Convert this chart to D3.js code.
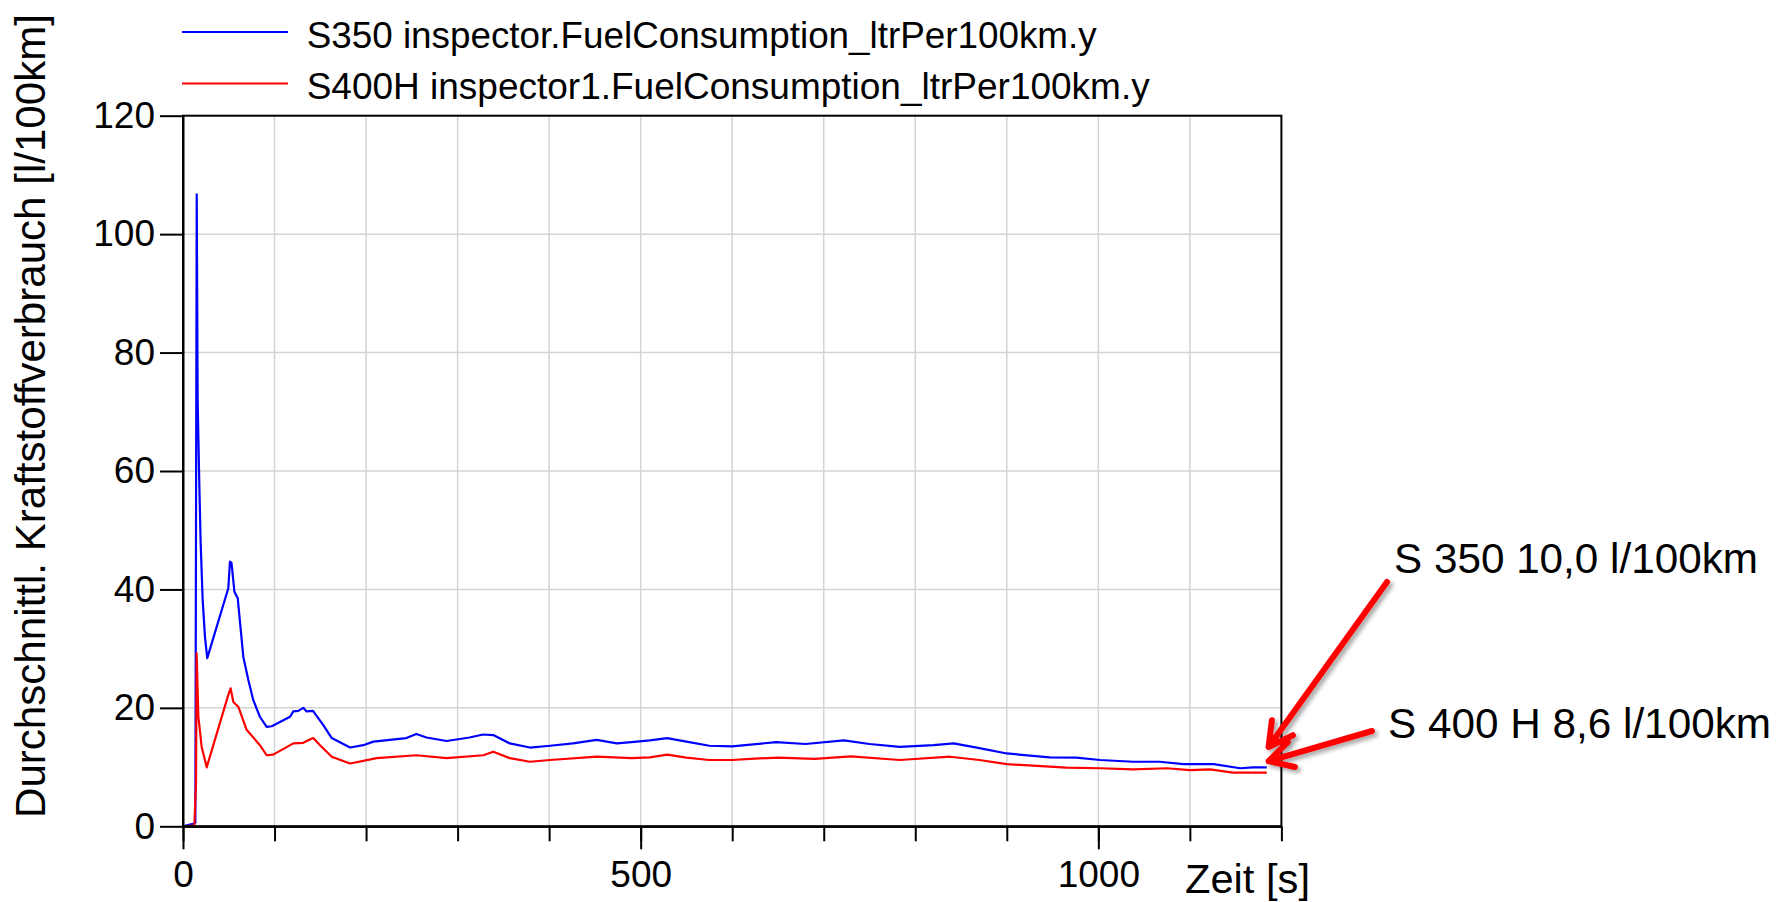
<!DOCTYPE html>
<html>
<head>
<meta charset="utf-8">
<script src="https://cdn.jsdelivr.net/npm/d3@7"></script>
<style>
  html, body { margin: 0; padding: 0; background: #fff; }
  svg { display: block; font-family: "Liberation Sans", Arial, sans-serif; }
</style>
</head>
<body>
<div id="chart"></div>
<script>
// time [s] and average consumption [l/100km]
const tS350 = [0, 11, 13.5, 15, 16, 17.8, 19.3, 21.5, 24, 26.5, 49.5, 51.3, 53, 56.2, 59.8, 65.9, 71.4, 76.8, 84, 91.4, 97,
  117, 120.5, 126, 131.4, 135, 142, 153.3, 162.5, 182.5, 197, 208, 244, 255, 266, 288, 313, 328, 339, 357, 379, 401, 426,
  452, 474, 490, 510, 529, 550, 575, 600, 620, 648, 680, 722, 750, 783, 820, 842, 870, 900, 947, 976, 1002, 1038, 1067,
  1093, 1126, 1155, 1169, 1184];
const vS350 = [0, 0.4, 0.6, 106.7, 72, 57.9, 47.8, 38.2, 32, 28.4, 40.2, 44.7, 44.5, 39.6, 38.5, 28.6, 24.7, 21.3, 18.5, 16.8, 16.9,
  18.5, 19.4, 19.5, 20.0, 19.4, 19.5, 17.1, 14.9, 13.3, 13.7, 14.3, 14.9, 15.6, 15.0, 14.4, 15.0, 15.5, 15.4, 14.0, 13.3, 13.6, 14.0,
  14.6, 14.0, 14.2, 14.5, 14.9, 14.3, 13.6, 13.5, 13.8, 14.2, 13.9, 14.5, 13.9, 13.4, 13.7, 14.0, 13.2, 12.3, 11.65, 11.6, 11.2, 10.9, 10.9,
  10.5, 10.5, 9.8, 9.96, 9.96];

const tS400H = [0, 12.4, 14.2, 14.9, 16.8, 20.4, 25.9, 49.5, 52, 55, 60.4, 69.5, 84, 91.4, 98.6, 120.5, 131.4, 135, 142.4, 149.7,
  162.5, 182.5, 211.6, 255, 288, 328, 339, 357, 379, 401, 452, 490, 510, 529, 550, 575, 600, 620, 650, 690, 730, 783, 838, 870,
  900, 965, 1002, 1038, 1075, 1100, 1122, 1147, 1184];
const vS400H = [0, 0.1, 7.3, 29.2, 18.5, 13.4, 9.96, 22.2, 23.3, 21.0, 20.2, 16.3, 13.7, 12.0, 12.1, 14.0, 14.1, 14.4, 14.9, 13.7,
  11.75, 10.6, 11.5, 12.0, 11.5, 12.0, 12.6, 11.5, 10.9, 11.2, 11.75, 11.5, 11.65, 12.1, 11.6, 11.2, 11.2, 11.4, 11.6, 11.4, 11.8,
  11.2, 11.75, 11.2, 10.5, 9.9, 9.8, 9.6, 9.8, 9.5, 9.6, 9.05, 9.05];

const seriesNames = ["S350 inspector.FuelConsumption_ltrPer100km.y", "S400H inspector1.FuelConsumption_ltrPer100km.y"];
const seriesColors = ["#0000ff", "#ff0000"];
const yTicks = [0, 20, 40, 60, 80, 100, 120];
const xMajor = [0, 500, 1000];
const xMinor = d3.range(0, 1201, 100);

// final values, pointed at by the arrows
const notes = [
  { text: "S 350 10,0 l/100km", t: 1186, v: 13.4, tx: 1394, ty: 573, len: 364, sx: 1387, sy: 582 },
  { text: "S 400 H 8,6 l/100km", t: 1186, v: 11.0, tx: 1388, ty: 738, len: 383, sx: 1372, sy: 731 }
];

const width = 1789, height = 902;
const svg = d3.select("#chart").append("svg")
  .attr("width", width)
  .attr("height", height);

const x = d3.scaleLinear().domain([0, 1200]).range([183, 1281.4]);
const y = d3.scaleLinear().domain([0, 120]).range([826.3, 115.7]);

// grid
svg.append("g").selectAll("line")
  .data(xMinor.filter(d => d > 0 && d < 1200))
  .join("line")
  .attr("x1", d => x(d)).attr("x2", d => x(d))
  .attr("y1", y(0)).attr("y2", y(120))
  .attr("stroke", "#d4d4d4").attr("stroke-width", 1.5);

svg.append("g").selectAll("line")
  .data(yTicks.filter(d => d > 0 && d < 120))
  .join("line")
  .attr("x1", x(0)).attr("x2", x(1200))
  .attr("y1", d => y(d)).attr("y2", d => y(d))
  .attr("stroke", "#d4d4d4").attr("stroke-width", 1.5);

// curves
const line = d3.line().x(d => x(d[0])).y(d => y(d[1]));
const series = [d3.zip(tS350, vS350), d3.zip(tS400H, vS400H)];

svg.append("g").selectAll("path")
  .data(series)
  .join("path")
  .attr("d", line)
  .attr("fill", "none")
  .attr("stroke", (d, i) => seriesColors[i])
  .attr("stroke-width", 2.2)
  .attr("stroke-linejoin", "round");

// frame
svg.append("rect")
  .attr("x", x(0)).attr("y", y(120))
  .attr("width", x(1200) - x(0)).attr("height", y(0) - y(120))
  .attr("fill", "none").attr("stroke", "#000").attr("stroke-width", 2);

// axes
const yAxis = svg.append("g")
  .attr("transform", `translate(${x(0)},0)`)
  .call(d3.axisLeft(y).tickValues(yTicks).tickSize(23).tickSizeOuter(0).tickPadding(5));

const xMinorAxis = svg.append("g")
  .attr("transform", `translate(0,${y(0)})`)
  .call(d3.axisBottom(x).tickValues(xMinor).tickSize(15).tickSizeOuter(0).tickFormat(""));

const xAxis = svg.append("g")
  .attr("transform", `translate(0,${y(0)})`)
  .call(d3.axisBottom(x).tickValues(xMajor).tickSize(23).tickSizeOuter(0).tickFormat(d3.format("d")));

xAxis.selectAll("text").attr("y", 60.7).attr("dy", 0);

[yAxis, xMinorAxis, xAxis].forEach(g => {
  g.select(".domain").attr("stroke-width", 2);
  g.selectAll(".tick line").attr("stroke-width", 2);
  g.selectAll("text")
    .attr("font-size", 37)
    .attr("font-family", "'Liberation Sans', Arial, sans-serif")
    .attr("fill", "#000");
});

// axis titles
svg.append("text")
  .attr("transform", "translate(45,818) rotate(-90)")
  .attr("font-size", 43)
  .attr("textLength", 804)
  .attr("lengthAdjust", "spacingAndGlyphs")
  .text("Durchschnittl. Kraftstoffverbrauch [l/100km]");

svg.append("text")
  .attr("x", 1185).attr("y", 893)
  .attr("font-size", 40)
  .attr("textLength", 125)
  .attr("lengthAdjust", "spacingAndGlyphs")
  .text("Zeit [s]");

// legend
const legend = svg.append("g").selectAll("g")
  .data(seriesNames)
  .join("g")
  .attr("transform", (d, i) => `translate(0,${i * 51.5})`);

legend.append("line")
  .attr("x1", 182).attr("x2", 288)
  .attr("y1", 32).attr("y2", 32)
  .attr("stroke", (d, i) => seriesColors[i])
  .attr("stroke-width", 2);

legend.append("text")
  .attr("x", 306.7).attr("y", 47.5)
  .attr("font-size", 37)
  .attr("textLength", (d, i) => i === 0 ? 790 : 843)
  .attr("lengthAdjust", "spacingAndGlyphs")
  .text(d => d);

// annotations with arrows
const defs = svg.append("defs");
defs.append("filter")
  .attr("id", "shadow")
  .attr("x", "-20%").attr("y", "-20%").attr("width", "140%").attr("height", "140%")
  .append("feDropShadow")
  .attr("dx", 3).attr("dy", 3).attr("stdDeviation", 2)
  .attr("flood-color", "#000").attr("flood-opacity", 0.35);

function arrowPath(n) {
  const ex = x(n.t), ey = y(n.v);
  const a = Math.atan2(n.sy - ey, n.sx - ex);
  const L = 27, spread = 0.5;
  const p1 = [ex + L * Math.cos(a + spread), ey + L * Math.sin(a + spread)];
  const p2 = [ex + L * Math.cos(a - spread), ey + L * Math.sin(a - spread)];
  return `M${n.sx},${n.sy}L${ex},${ey}M${p1[0]},${p1[1]}L${ex},${ey}L${p2[0]},${p2[1]}`;
}

const notesG = svg.append("g").selectAll("g")
  .data(notes)
  .join("g");

notesG.append("path")
  .attr("d", arrowPath)
  .attr("fill", "none")
  .attr("stroke", "#ff0000")
  .attr("stroke-width", 6)
  .attr("stroke-linecap", "round")
  .attr("stroke-linejoin", "round")
  .attr("filter", "url(#shadow)");

notesG.append("text")
  .attr("x", d => d.tx).attr("y", d => d.ty)
  .attr("font-size", 42)
  .attr("textLength", d => d.len)
  .attr("lengthAdjust", "spacingAndGlyphs")
  .text(d => d.text);
</script>
</body>
</html>
